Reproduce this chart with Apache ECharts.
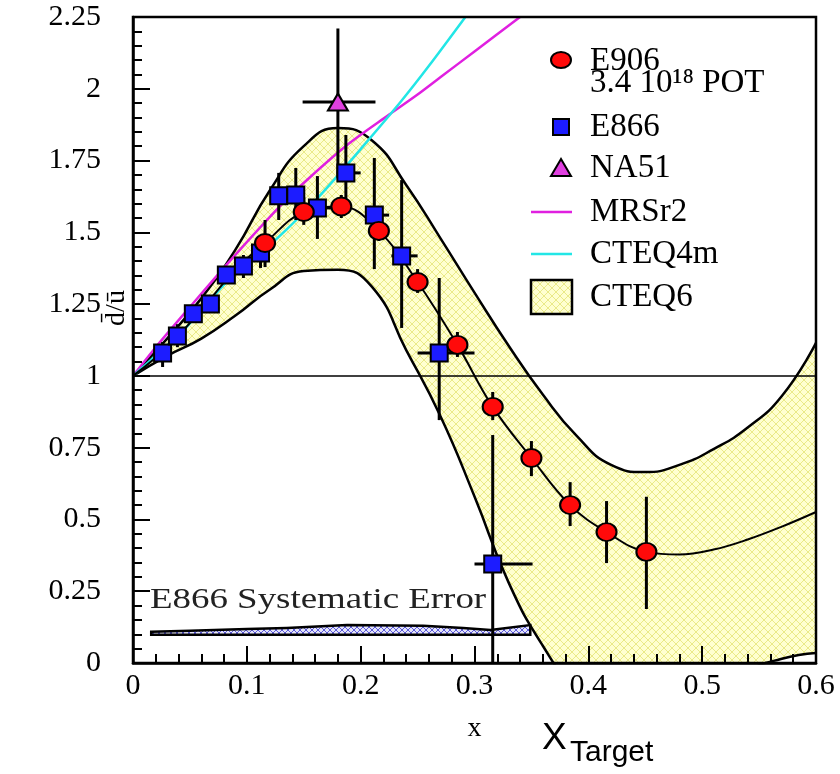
<!DOCTYPE html>
<html>
<head>
<meta charset="utf-8">
<script src="https://cdn.jsdelivr.net/npm/echarts@6/dist/echarts.min.js"></script>
<style>
  html, body { margin: 0; padding: 0; background: #fff; }
  #chart { width: 840px; height: 774px; }
</style>
</head>
<body>
<div id="chart"></div>
<script>
// E906 (red circles)
const e906X = [0.116, 0.150, 0.183, 0.216, 0.250, 0.285, 0.316, 0.350, 0.384, 0.416, 0.451];
const e906Y = [1.463, 1.571, 1.590, 1.505, 1.327, 1.108, 0.892, 0.714, 0.550, 0.456, 0.387];
const e906Lo = [1.379, 1.526, 1.550, 1.470, 1.289, 1.066, 0.846, 0.651, 0.477, 0.348, 0.188];
const e906Hi = [1.543, 1.623, 1.630, 1.530, 1.372, 1.153, 0.944, 0.773, 0.630, 0.564, 0.579];

// E866 (blue squares)
const e866X = [0.026, 0.039, 0.053, 0.068, 0.082, 0.097, 0.112, 0.128, 0.143, 0.162, 0.187, 0.212, 0.236, 0.269, 0.316];
const e866Y = [1.080, 1.139, 1.216, 1.250, 1.351, 1.383, 1.428, 1.627, 1.630, 1.585, 1.707, 1.560, 1.418, 1.080, 0.345];
const e866Lo = [1.031, 1.100, 1.190, 1.220, 1.324, 1.341, 1.376, 1.543, 1.543, 1.477, 1.588, 1.372, 1.167, 0.846, 0.000];
const e866Hi = [1.118, 1.180, 1.245, 1.280, 1.376, 1.421, 1.449, 1.707, 1.724, 1.696, 1.839, 1.759, 1.682, 1.341, 0.794];
const e866XLo = [0.026, 0.039, 0.053, 0.068, 0.082, 0.097, 0.112, 0.128, 0.143, 0.153, 0.179, 0.204, 0.227, 0.250, 0.300];
const e866XHi = [0.026, 0.039, 0.053, 0.068, 0.082, 0.097, 0.112, 0.128, 0.143, 0.175, 0.200, 0.225, 0.250, 0.300, 0.351];

// NA51 (triangle)
const na51X = [0.180];
const na51Y = [1.954];
const na51Lo = [1.690];
const na51Hi = [2.210];
const na51XLo = [0.149];
const na51XHi = [0.213];

// MRSr2 and CTEQ4m curves
const mrsX = [0, 0.02, 0.05, 0.085, 0.13, 0.155, 0.19, 0.225, 0.25, 0.27, 0.30, 0.34];
const mrsY = [1.0, 1.10, 1.24, 1.40, 1.595, 1.69, 1.81, 1.91, 1.98, 2.04, 2.13, 2.25];
const cteq4X = [0, 0.02, 0.047, 0.083, 0.11, 0.135, 0.16, 0.176, 0.20, 0.235, 0.26, 0.292];
const cteq4Y = [1.0, 1.07, 1.17, 1.33, 1.42, 1.51, 1.61, 1.68, 1.79, 1.954, 2.08, 2.25];

// CTEQ6 band
const bandX = [0, 0.03, 0.06, 0.09, 0.12, 0.15, 0.18, 0.21, 0.24, 0.27, 0.30, 0.33, 0.36, 0.39, 0.42, 0.45, 0.48, 0.51, 0.54, 0.57, 0.60];
const bandUp = [1.0, 1.13, 1.27, 1.44, 1.645, 1.80, 1.863, 1.82, 1.665, 1.48, 1.29, 1.105, 0.935, 0.79, 0.69, 0.665, 0.69, 0.745, 0.82, 0.93, 1.115];
const bandLow = [1.0, 1.07, 1.13, 1.21, 1.30, 1.365, 1.37, 1.31, 1.09, 0.86, 0.58, 0.28, 0.06, -0.10, -0.19, -0.22, -0.20, -0.13, -0.03, 0.015, 0.035];

// curve through the E906 points
const fitX = [0, 0.03, 0.06, 0.09, 0.116, 0.15, 0.183, 0.216, 0.25, 0.285, 0.316, 0.35, 0.384, 0.416, 0.451, 0.48, 0.51, 0.54, 0.57, 0.60];
const fitY = [1.0, 1.10, 1.23, 1.37, 1.463, 1.571, 1.59, 1.505, 1.327, 1.108, 0.892, 0.714, 0.55, 0.456, 0.387, 0.378, 0.395, 0.43, 0.475, 0.526];

// E866 systematic error band
const sysX = [0.016, 0.05, 0.10, 0.135, 0.188, 0.255, 0.29, 0.314, 0.349];
const sysTop = [0.109, 0.112, 0.118, 0.122, 0.132, 0.130, 0.122, 0.115, 0.132];
const sysBottom = [0.098, 0.098, 0.098, 0.098, 0.098, 0.098, 0.098, 0.098, 0.098];

const xTicks = ['0', '0.1', '0.2', '0.3', '0.4', '0.5', '0.6'];

const serif = 'Liberation Serif';

function hatch(bg, fg, size) {
  const c = document.createElement('canvas');
  c.width = size; c.height = size;
  const g = c.getContext('2d');
  g.fillStyle = bg;
  g.fillRect(0, 0, size, size);
  g.strokeStyle = fg;
  g.lineWidth = 1;
  g.beginPath();
  g.moveTo(0, 0); g.lineTo(size, size);
  g.moveTo(size, 0); g.lineTo(0, size);
  g.stroke();
  return c;
}
const yellowHatch = { image: hatch('#ffffd0', '#eaea88', 8), repeat: 'repeat' };
const blueHatch = { image: hatch('#e4e4fa', '#5a5ad8', 6), repeat: 'repeat' };

const zip = (a, b) => a.map((v, i) => [v, b[i]]);

function errData(xs, ys, lo, hi, xlo, xhi) {
  return xs.map((x, i) => [x, lo[i], hi[i], xlo ? xlo[i] : x, xhi ? xhi[i] : x, ys[i]]);
}

function renderErr(params, api) {
  const x = api.value(0), y = api.value(5);
  const a = api.coord([x, api.value(1)]);
  const b = api.coord([x, api.value(2)]);
  const style = { stroke: '#000', lineWidth: 3 };
  const children = [{ type: 'line', shape: { x1: a[0], y1: a[1], x2: b[0], y2: b[1] }, style }];
  const xl = api.value(3), xh = api.value(4);
  if (xh > xl) {
    const l = api.coord([xl, y]), r = api.coord([xh, y]);
    children.push({ type: 'line', shape: { x1: l[0], y1: l[1], x2: r[0], y2: r[1] }, style });
  }
  return { type: 'group', children };
}

function renderSys(params, api) {
  const pts = [];
  sysX.forEach((x, i) => pts.push(api.coord([x, sysTop[i]])));
  for (let i = sysX.length - 1; i >= 0; i--) pts.push(api.coord([sysX[i], sysBottom[i]]));
  return {
    type: 'polygon',
    shape: { points: pts },
    style: { fill: blueHatch, stroke: '#000', lineWidth: 2.5 }
  };
}

const chart = echarts.init(document.getElementById('chart'));

const legendFont = '33px "Liberation Serif"';
const lx = 590;

const axisCommon = {
  z: 10,
  axisLine: { onZero: false, lineStyle: { color: '#000', width: 2.5 } },
  axisTick: { inside: true, length: 17, lineStyle: { color: '#000', width: 2 } },
  minorTick: { show: true, splitNumber: 5, length: 9, lineStyle: { color: '#000', width: 2 } },
  splitLine: { show: false }
};

chart.setOption({
  animation: false,
  grid: { left: 133, top: 17, right: 24, bottom: 111, show: true, z: 10, borderColor: '#000', borderWidth: 2.5 },
  xAxis: Object.assign({
    type: 'value', min: 0, max: 0.6, interval: 0.1,
    name: 'x', nameLocation: 'middle', nameGap: 52,
    nameTextStyle: { fontFamily: serif, fontSize: 28, color: '#000' },
    axisLabel: { color: '#000', fontFamily: serif, fontSize: 30, margin: 8,
      formatter: v => xTicks[Math.round(v * 10)] }
  }, axisCommon),
  yAxis: Object.assign({
    type: 'value', min: 0, max: 2.25, interval: 0.25,
    axisLabel: { color: '#000', fontFamily: serif, fontSize: 30, margin: 32 }
  }, axisCommon),
  series: [
    {
      name: 'CTEQ6', type: 'line', data: zip(bandX, bandUp), smooth: 0.5, symbol: 'none', clip: true, z: 1,
      lineStyle: { color: '#000', width: 2.5 },
      areaStyle: { color: yellowHatch, opacity: 1, origin: 'start' }
    },
    {
      name: 'bandLow', type: 'line', data: zip(bandX, bandLow), smooth: 0.5, symbol: 'none', clip: true, z: 1,
      lineStyle: { color: '#000', width: 2.5 },
      areaStyle: { color: '#fff', opacity: 1, origin: 'start' }
    },
    {
      name: 'sys', type: 'custom', z: 3, data: [[sysX[0], sysTop[0]]], renderItem: renderSys
    },
    {
      name: 'MRSr2', type: 'line', data: zip(mrsX, mrsY), smooth: 0.3, symbol: 'none', z: 3,
      lineStyle: { color: '#e020e0', width: 2.5 }
    },
    {
      name: 'CTEQ4m', type: 'line', data: zip(cteq4X, cteq4Y), smooth: 0.3, symbol: 'none', z: 3,
      lineStyle: { color: '#22e6e6', width: 2.5 }
    },
    {
      name: 'fit', type: 'line', data: zip(fitX, fitY), smooth: 0.4, symbol: 'none', z: 3,
      lineStyle: { color: '#000', width: 2 },
      markLine: {
        silent: true, symbol: 'none', label: { show: false },
        lineStyle: { color: '#000', width: 1.5, type: 'solid' },
        data: [{ yAxis: 1 }]
      }
    },
    { name: 'e866Err', type: 'custom', z: 4, renderItem: renderErr, encode: { x: 0, y: [1, 2] },
      data: errData(e866X, e866Y, e866Lo, e866Hi, e866XLo, e866XHi) },
    { name: 'e906Err', type: 'custom', z: 4, renderItem: renderErr, encode: { x: 0, y: [1, 2] },
      data: errData(e906X, e906Y, e906Lo, e906Hi) },
    { name: 'na51Err', type: 'custom', z: 4, renderItem: renderErr, encode: { x: 0, y: [1, 2] },
      data: errData(na51X, na51Y, na51Lo, na51Hi, na51XLo, na51XHi) },
    {
      name: 'E866', type: 'scatter', data: zip(e866X, e866Y), symbol: 'rect', symbolSize: 17, z: 5,
      itemStyle: { color: '#1c1cff', borderColor: '#000', borderWidth: 2, opacity: 1 }
    },
    {
      name: 'E906', type: 'scatter', data: zip(e906X, e906Y), symbol: 'circle', symbolSize: [20, 18], z: 5,
      itemStyle: { color: '#ff0a0a', borderColor: '#000', borderWidth: 2, opacity: 1 }
    },
    {
      name: 'NA51', type: 'scatter', data: zip(na51X, na51Y), symbol: 'triangle', symbolSize: [20, 17], z: 5,
      itemStyle: { color: '#e040e0', borderColor: '#000', borderWidth: 2, opacity: 1 }
    }
  ],
  graphic: [
    // legend
    { type: 'ellipse', shape: { cx: 561, cy: 60, rx: 10, ry: 8 }, style: { fill: '#ff0a0a', stroke: '#000', lineWidth: 2 } },
    { type: 'text', x: lx, y: 61, style: { text: 'E906', font: legendFont, fill: '#000', textVerticalAlign: 'middle' } },
    { type: 'text', x: lx, y: 83, style: { text: '3.4 10¹⁸ POT', font: legendFont, fill: '#000', textVerticalAlign: 'middle' } },
    { type: 'rect', shape: { x: 553, y: 119, width: 16, height: 16 }, style: { fill: '#1c1cff', stroke: '#000', lineWidth: 2 } },
    { type: 'text', x: lx, y: 127, style: { text: 'E866', font: legendFont, fill: '#000', textVerticalAlign: 'middle' } },
    { type: 'polygon', shape: { points: [[561, 159], [551, 176], [571, 176]] }, style: { fill: '#e040e0', stroke: '#000', lineWidth: 2 } },
    { type: 'text', x: lx, y: 168, style: { text: 'NA51', font: legendFont, fill: '#000', textVerticalAlign: 'middle' } },
    { type: 'line', shape: { x1: 531, y1: 212, x2: 572, y2: 212 }, style: { stroke: '#e020e0', lineWidth: 2.5 } },
    { type: 'text', x: lx, y: 212, style: { text: 'MRSr2', font: legendFont, fill: '#000', textVerticalAlign: 'middle' } },
    { type: 'line', shape: { x1: 531, y1: 254, x2: 572, y2: 254 }, style: { stroke: '#22e6e6', lineWidth: 2.5 } },
    { type: 'text', x: lx, y: 254, style: { text: 'CTEQ4m', font: legendFont, fill: '#000', textVerticalAlign: 'middle' } },
    { type: 'rect', shape: { x: 531, y: 280, width: 41, height: 34 }, style: { fill: yellowHatch, stroke: '#000', lineWidth: 2.5 } },
    { type: 'text', x: lx, y: 297, style: { text: 'CTEQ6', font: legendFont, fill: '#000', textVerticalAlign: 'middle' } },
    // annotations
    { type: 'text', x: 150, y: 600, scaleX: 1.23, z: 20,
      style: { text: 'E866 Systematic Error', font: '30px "Liberation Serif"', fill: '#222', textVerticalAlign: 'middle' } },
    { type: 'text', x: 117, y: 308, rotation: Math.PI / 2,
      style: { text: 'd\u0304/u\u0304', font: '28px "Liberation Serif"', fill: '#000', textAlign: 'center', textVerticalAlign: 'middle' } },
    { type: 'text', x: 542, y: 757, style: { text: 'X', font: '37px "Liberation Sans"', fill: '#000', textVerticalAlign: 'bottom' } },
    { type: 'text', x: 570, y: 768, style: { text: 'Target', font: '30px "Liberation Sans"', fill: '#000', textVerticalAlign: 'bottom' } }
  ]
});
</script>
</body>
</html>
